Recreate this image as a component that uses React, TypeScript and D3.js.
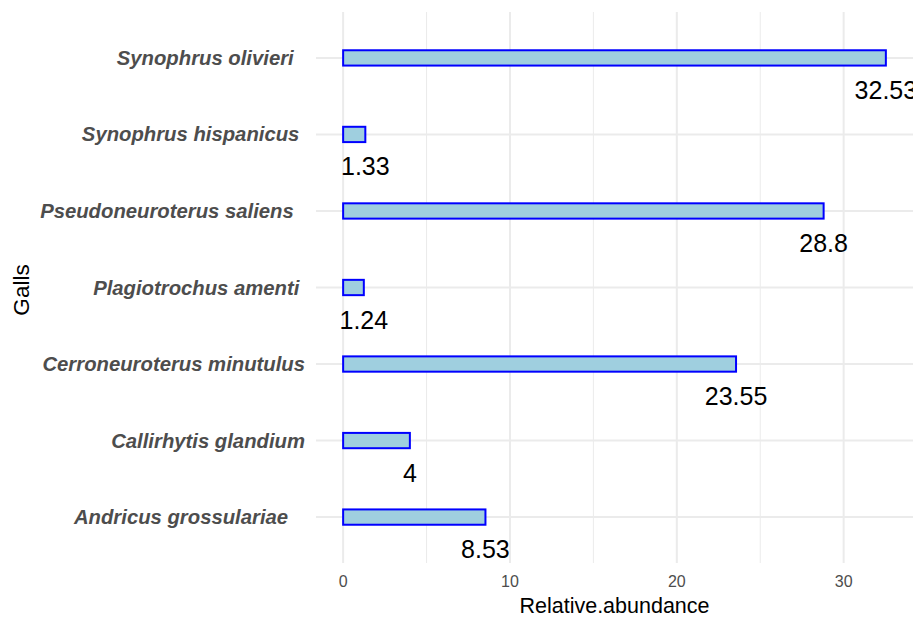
import React from "react";
import * as d3 from "d3";

const categories = [
  "Synophrus olivieri  ",
  "Synophrus hispanicus ",
  "Pseudoneuroterus saliens  ",
  "Plagiotrochus amenti ",
  "Cerroneuroterus minutulus",
  "Callirhytis glandium",
  "Andricus grossulariae   ",
];
const values = [32.53, 1.33, 28.8, 1.24, 23.55, 4, 8.53];
const valueLabels = ["32.53", "1.33", "28.8", "1.24", "23.55", "4", "8.53"];
const majorTicks = [0, 10, 20, 30];
const minorTicks = [5, 15, 25];
const xTitle = "Relative.abundance";
const yTitle = "Galls";

const W = 917;
const H = 617;
const panel = { left: 316, right: 913, top: 12, bottom: 563 };
const FONT = "'Liberation Sans', Arial, Helvetica, sans-serif";

export default function App() {
  const maxV = d3.max(values) as number;
  const pad = maxV * 0.05;
  const x = d3
    .scaleLinear()
    .domain([0 - pad, maxV + pad])
    .range([panel.left, panel.right]);
  const y = d3
    .scalePoint<string>()
    .domain(categories)
    .range([panel.top, panel.bottom])
    .padding(0.6);
  const step = y.step();
  const barH = step * 0.2;

  return (
    <svg
      width={W}
      height={H}
      style={{ position: "absolute", left: 0, top: 0, background: "#fff" }}
      fontFamily={FONT}
    >
      <defs>
        <clipPath id="panelClip">
          <rect
            x={panel.left}
            y={panel.top}
            width={panel.right - panel.left}
            height={panel.bottom - panel.top}
          />
        </clipPath>
      </defs>
      {minorTicks.map((t) => (
        <line
          key={"mn" + t}
          x1={x(t)}
          x2={x(t)}
          y1={panel.top}
          y2={panel.bottom}
          stroke="#ebebeb"
          strokeWidth={1}
        />
      ))}
      {majorTicks.map((t) => (
        <line
          key={"mj" + t}
          x1={x(t)}
          x2={x(t)}
          y1={panel.top}
          y2={panel.bottom}
          stroke="#ebebeb"
          strokeWidth={2}
        />
      ))}
      {categories.map((c) => (
        <line
          key={"hg" + c}
          x1={panel.left}
          x2={panel.right}
          y1={y(c)}
          y2={y(c)}
          stroke="#ebebeb"
          strokeWidth={2}
        />
      ))}
      {categories.map((c, i) => (
        <rect
          key={"b" + c}
          x={x(0)}
          y={(y(c) as number) - barH / 2}
          width={x(values[i]) - x(0)}
          height={barH}
          fill="#9fcfdf"
          stroke="#0000ff"
          strokeWidth={2}
        />
      ))}
      <g clipPath="url(#panelClip)">
        {categories.map((c, i) => (
          <text
            key={"v" + c}
            x={x(values[i])}
            y={(y(c) as number) + 41}
            textAnchor="middle"
            fontSize={25}
            fill="#000"
          >
            {valueLabels[i]}
          </text>
        ))}
      </g>
      {categories.map((c) => (
        <text
          key={"yl" + c}
          x={305}
          y={(y(c) as number) + 7}
          textAnchor="end"
          fontSize={20.3}
          fontWeight="bold"
          fontStyle="italic"
          fill="#4d4d4d"
          style={{ whiteSpace: "pre" }}
        >
          {c}
        </text>
      ))}
      {majorTicks.map((t) => (
        <text
          key={"xt" + t}
          x={x(t)}
          y={587}
          textAnchor="middle"
          fontSize={16}
          fill="#4d4d4d"
        >
          {t}
        </text>
      ))}
      <text
        x={(panel.left + panel.right) / 2}
        y={613}
        textAnchor="middle"
        fontSize={21.5}
        fill="#000"
      >
        {xTitle}
      </text>
      <text
        transform={`translate(29, 290) rotate(-90)`}
        textAnchor="middle"
        fontSize={22.5}
        fill="#000"
      >
        {yTitle}
      </text>
    </svg>
  );
}
